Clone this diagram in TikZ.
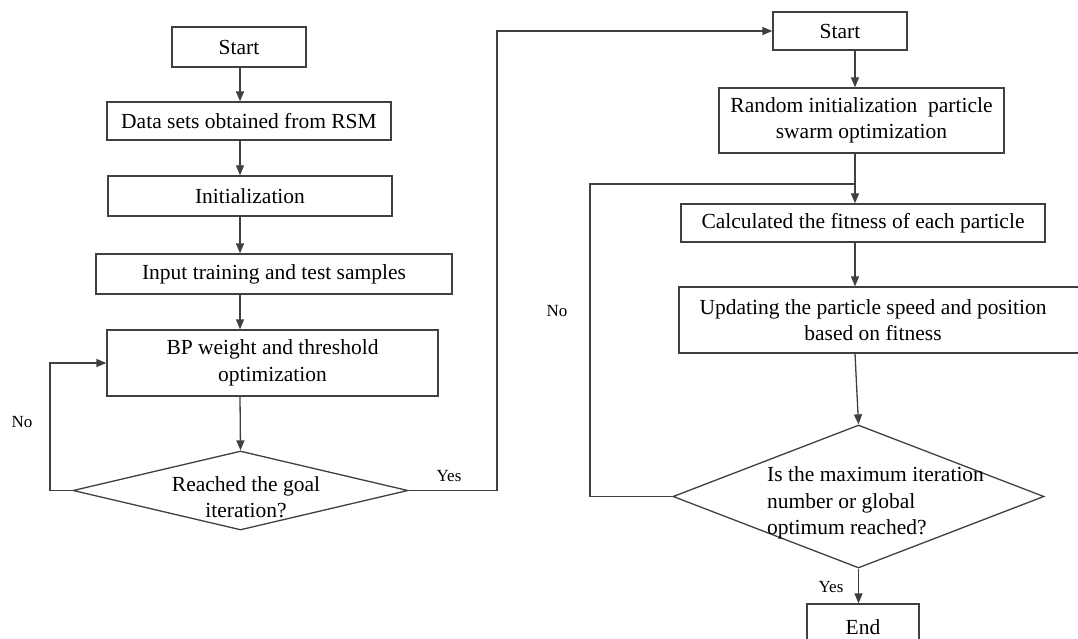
\documentclass[tikz,border=0pt]{standalone}
\usepackage{fontspec}
\setmainfont{Liberation Serif}
\usetikzlibrary{shapes.geometric,arrows.meta,calc}
\begin{document}
\begin{tikzpicture}[x=1pt,y=-1pt,
  line/.style={draw=black!75, line width=1.3pt},
  arr/.style={line, -{Triangle[length=10pt,width=8pt]}},
  box/.style={draw=black!75, line width=1.3pt, rectangle, inner sep=0pt, align=center, font=\fontsize{21.5}{26.5}\selectfont},
  dia/.style={draw=black!75, line width=1.3pt, diamond, inner sep=0pt},
  txt/.style={font=\fontsize{21.5}{26.5}\selectfont, align=center, inner sep=0pt},
  lbl/.style={font=\fontsize{17}{20}\selectfont, inner sep=0pt}]
\useasboundingbox (0,0) rectangle (1078,639);
\clip (0,0) rectangle (1078,639);
\fill[white] (0,0) rectangle (1078,639);

% left column
\node[box, minimum width=134pt, minimum height=40pt] (s1) at (239,47) {Start};
\node[box, minimum width=284pt, minimum height=38pt] (ds) at (249,121) {Data sets obtained from RSM};
\node[box, minimum width=284pt, minimum height=40pt] (ini) at (250,196) {Initialization};
\node[box, minimum width=356pt, minimum height=40pt] (inp) at (274,274) {Input training\ and test samples};
\node[box, minimum width=331pt, minimum height=66pt] (bp) at (272.5,363) {BP weight\ and threshold\\optimization};
\node[dia, minimum width=335pt, minimum height=79pt] (d1) at (240.5,490.5) {};
\node[txt] (d1t) at (246,497) {Reached the goal\\iteration?};

\coordinate (lx) at (240,0);
\draw[arr] (s1.south -| lx) -- (ds.north -| lx);
\draw[arr] (ds.south -| lx) -- (ini.north -| lx);
\draw[arr] (ini.south -| lx) -- (inp.north -| lx);
\draw[arr] (inp.south -| lx) -- (bp.north -| lx);
\draw[arr] (bp.south -| lx) -- (d1.north);

\coordinate (nl) at (50,363);
\draw[arr] (d1.west) -| (nl) -- (bp.west);

% right column
\node[box, minimum width=134pt, minimum height=38pt] (s2) at (840,31) {Start};
\node[box, minimum width=285pt, minimum height=65pt] (ri) at (861.5,120.5) {Random initialization\ \ particle\\swarm optimization};
\node[box, minimum width=364pt, minimum height=38pt] (cf) at (863,223) {Calculated the fitness of each particle};
\node[box, minimum width=406pt, minimum height=66pt] (upb) at (882,320) {};
\node[txt] (upt) at (873,320) {Updating the\ particle speed and position\\based on fitness};
\node[dia, minimum width=371pt, minimum height=143pt] (d2) at (858.5,496.5) {};
\node[txt, align=left, anchor=west] (d2t) at (767,503) {Is the maximum iteration\\number or global\\optimum reached?};
\node[box, minimum width=112pt, minimum height=46pt] (en) at (863,627) {End};

\coordinate (yc) at (497,31);
\draw[arr] (d1.east) -| (yc) -- (s2.west);

\coordinate (rx) at (855,0);
\coordinate (j) at (855,184);
\draw[arr] (s2.south -| rx) -- (ri.north -| rx);
\draw[line] (ri.south -| rx) -- (j);
\draw[arr] (j) -- (cf.north -| rx);
\draw[arr] (cf.south -| rx) -- (upb.north -| rx);
\draw[arr] (upb.south -| rx) -- (d2.north);
\coordinate (nr) at (590,184);
\draw[line] (d2.west) -| (nr) -- (j);
\draw[arr] (d2.south) -- (en.north -| d2.south);

% labels
\node[lbl] (no1) at (22,422) {No};
\node[lbl] (yes1) at (449,476) {Yes};
\node[lbl] (no2) at (557,311) {No};
\node[lbl] (yes2) at (831,587) {Yes};
\end{tikzpicture}
\end{document}
